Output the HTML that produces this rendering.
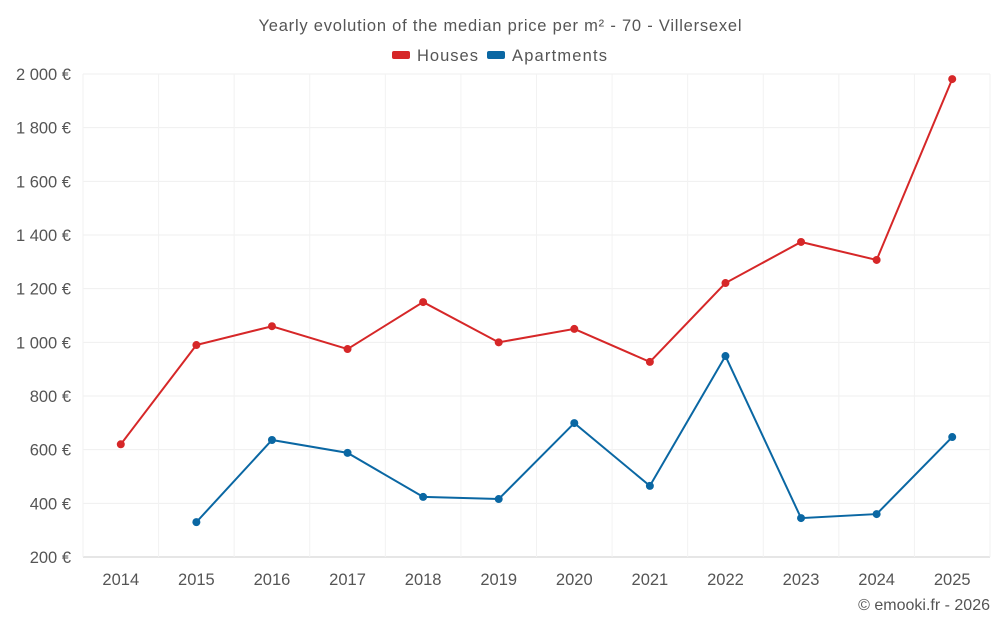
<!DOCTYPE html>
<html><head><meta charset="utf-8"><style>
body{margin:0;background:#fff;font-family:"Liberation Sans",sans-serif;}
svg text{font-family:"Liberation Sans",sans-serif;}
</style></head><body>
<svg id="c" width="1000" height="625">
<text x="500" y="31" text-anchor="middle" font-size="16.5" fill="#555" textLength="483" lengthAdjust="spacing">Yearly evolution of the median price per m² - 70 - Villersexel</text>
<g><rect x="392" y="51" width="18" height="8" rx="2" fill="#d62728"/><text x="417" y="61" font-size="16.5" fill="#555" textLength="61">Houses</text></g>
<g><rect x="487" y="51" width="18" height="8" rx="2" fill="#0a67a3"/><text x="512" y="61" font-size="16.5" fill="#555" textLength="95">Apartments</text></g>
<g id="grid"></g><g id="axes"></g><g id="series"></g>
<text x="990" y="610" text-anchor="end" font-size="16" fill="#555">© emooki.fr - 2026</text>
</svg>
<script>
const years=["2014","2015","2016","2017","2018","2019","2020","2021","2022","2023","2024","2025"];
const houses=[620,990,1060,975,1150,1000,1050,927,1221,1374,1307,1981];
const apartments=[null,330,636,588,424,416,699,465,949,345,360,647];
const yTicks=[200,400,600,800,1000,1200,1400,1600,1800,2000];
const yTickLabels=["200 €","400 €","600 €","800 €","1 000 €","1 200 €","1 400 €","1 600 €","1 800 €","2 000 €"];
const L=83,R=990,T=74,B=557,ymin=200,ymax=2000;
const step=(R-L)/years.length;
const xs=i=>L+step*(i+0.5);
const ys=v=>B-(v-ymin)/(ymax-ymin)*(B-T);
const NS="http://www.w3.org/2000/svg";
function mk(tag,attrs,parent){const e=document.createElementNS(NS,tag);for(const k in attrs)e.setAttribute(k,attrs[k]);parent.appendChild(e);return e;}
const g=document.getElementById('grid'),a=document.getElementById('axes'),s=document.getElementById('series');
yTicks.forEach((v,i)=>{
 const ln=mk('line',{x1:L,x2:R,y1:ys(v),y2:ys(v),stroke:i==0?'#ccc':'#efefef'},g);
 
 
 const t=mk('text',{x:L-12,y:ys(v)+6,'text-anchor':'end','font-size':16.5,fill:'#555'},a);
 t.textContent=yTickLabels[i];
 
 
});
for(let i=0;i<=years.length;i++){
 const ln=mk('line',{x1:L+step*i,x2:L+step*i,y1:T,y2:B,stroke:'#f2f2f2'},g);
 
 
}
years.forEach((y,i)=>{
 const t=mk('text',{x:xs(i),y:585,'text-anchor':'middle','font-size':16.5,fill:'#555'},a);
 t.textContent=y;
 
 
});
function draw(data,color,name){
 let d='';data.forEach((v,i)=>{if(v==null)return;d+=(d?'L':'M')+xs(i)+','+ys(v);});
 const p=mk('path',{d:d,fill:'none',stroke:color,'stroke-width':2},s);
 
 
 data.forEach((v,i)=>{if(v==null)return;
  const c=mk('circle',{cx:xs(i),cy:ys(v),r:4,fill:color},s);
  
  
 });
}
draw(houses,'#d62728','houses');
draw(apartments,'#0a67a3','apartments');
</script>
</body></html>
